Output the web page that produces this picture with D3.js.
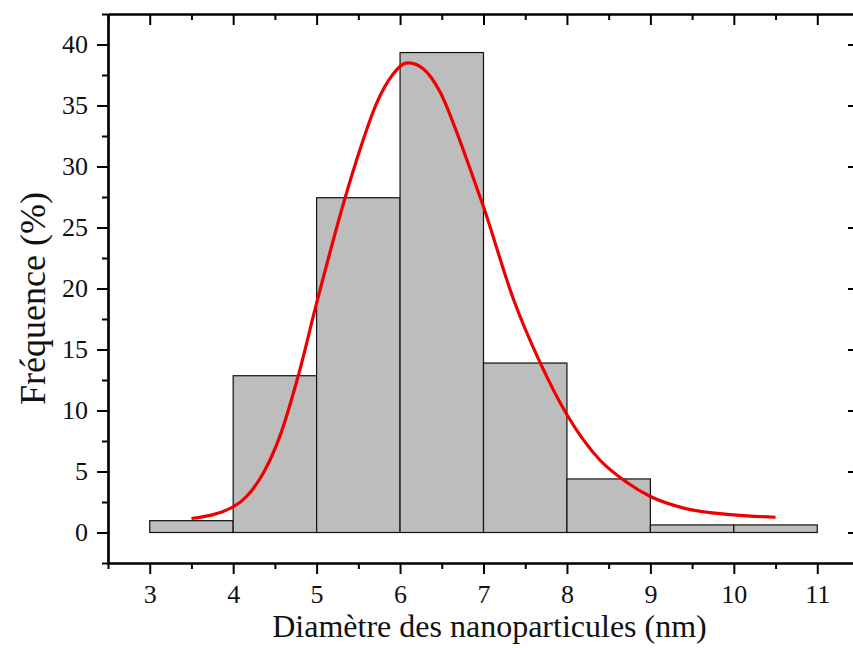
<!DOCTYPE html>
<html>
<head>
<meta charset="utf-8">
<script src="https://cdn.jsdelivr.net/npm/d3@7"></script>
<style>
  body { margin: 0; background: #fff; }
  svg { display: block; }
</style>
</head>
<body>
<svg id="chart" width="853" height="648"></svg>
<script>
// ---- data ----
const binStarts = [3, 4, 5, 6, 7, 8, 9, 10];
const binWidth = 1;
const frequencies = [0.97, 12.85, 27.44, 39.34, 13.89, 4.39, 0.62, 0.62];
const fitX = [3.5, 4.0, 4.16, 4.36, 4.56, 4.78, 5.0, 5.34, 5.52, 5.72, 5.92, 6.04, 6.10, 6.28, 6.48, 6.68, 6.84, 7.0, 7.36, 7.68, 8.0, 8.4, 8.72, 9.0, 9.4, 10.0, 10.5];
const fitY = [1.15, 2.1, 2.95, 4.85, 7.9, 12.85, 18.8, 27.4, 31.4, 35.2, 37.6, 38.4, 38.5, 38.0, 36.1, 32.8, 29.8, 26.7, 19.1, 13.9, 9.65, 5.9, 4.1, 2.95, 2.0, 1.45, 1.25];
const xTickValues = [3, 4, 5, 6, 7, 8, 9, 10, 11];
const xMinorTicks = [2.5, 3.5, 4.5, 5.5, 6.5, 7.5, 8.5, 9.5, 10.5, 11.5];
const yTickValues = [0, 5, 10, 15, 20, 25, 30, 35, 40];
const yMinorTicks = [-2.5, 2.5, 7.5, 12.5, 17.5, 22.5, 27.5, 32.5, 37.5, 42.5];
const xTitle = "Diamètre des nanoparticules (nm)";
const yTitle = "Fréquence (%)";

// ---- layout ----
const FONT = "Liberation Serif";
const L = 108, T = 14, R = 859, B = 563;
const svg = d3.select("#chart");
const x = d3.scaleLinear().domain([2.5, 11.5]).range([L, R]);
const y = d3.scaleLinear().domain([-2.5, 42.5]).range([B, T]);

// bars
svg.append("g").selectAll("rect").data(binStarts).join("rect")
  .attr("x", d => x(d))
  .attr("width", d => x(d + binWidth) - x(d))
  .attr("y", (d, i) => y(frequencies[i]))
  .attr("height", (d, i) => y(0) - y(frequencies[i]))
  .attr("fill", "#bdbdbd")
  .attr("stroke", "#111")
  .attr("stroke-width", 1.2);

// fit curve
const pts = fitX.map((v, i) => [v, fitY[i]]);
svg.append("path")
  .datum(pts)
  .attr("d", d3.line().x(d => x(d[0])).y(d => y(d[1])).curve(d3.curveMonotoneX))
  .attr("fill", "none")
  .attr("stroke", "#ee0000")
  .attr("stroke-width", 3.2)
  .attr("stroke-linejoin", "round");

// axes
function styleAxis(g) {
  g.attr("font-family", FONT).attr("font-size", 26);
  g.selectAll("path.domain").attr("stroke", "#000").attr("stroke-width", 2.2);
  g.selectAll(".tick line").attr("stroke", "#000").attr("stroke-width", 2);
  g.selectAll(".tick text").attr("fill", "#111");
}
// bottom
svg.append("g").attr("transform", `translate(0,${B})`)
  .call(d3.axisBottom(x).tickValues(xTickValues).tickSize(11).tickPadding(11).tickSizeOuter(0).tickFormat(d3.format("d")))
  .call(styleAxis);
svg.append("g").attr("transform", `translate(0,${B})`)
  .call(d3.axisBottom(x).tickValues(xMinorTicks).tickSize(6).tickFormat("").tickSizeOuter(0))
  .call(styleAxis);
// top (inward)
svg.append("g").attr("transform", `translate(0,${T})`)
  .call(d3.axisBottom(x).tickValues(xTickValues).tickSize(11).tickFormat("").tickSizeOuter(0))
  .call(styleAxis);
svg.append("g").attr("transform", `translate(0,${T})`)
  .call(d3.axisBottom(x).tickValues(xMinorTicks).tickSize(6).tickFormat("").tickSizeOuter(0))
  .call(styleAxis);
// left
svg.append("g").attr("transform", `translate(${L},0)`)
  .call(d3.axisLeft(y).tickValues(yTickValues).tickSize(11).tickPadding(9).tickSizeOuter(0).tickFormat(d3.format("d")))
  .call(styleAxis);
svg.append("g").attr("transform", `translate(${L},0)`)
  .call(d3.axisLeft(y).tickValues(yMinorTicks).tickSize(6).tickFormat("").tickSizeOuter(0))
  .call(styleAxis);
// right (inward)
svg.append("g").attr("transform", `translate(${R},0)`)
  .call(d3.axisLeft(y).tickValues(yTickValues).tickSize(11).tickFormat("").tickSizeOuter(0))
  .call(styleAxis);
svg.append("g").attr("transform", `translate(${R},0)`)
  .call(d3.axisLeft(y).tickValues(yMinorTicks).tickSize(6).tickFormat("").tickSizeOuter(0))
  .call(styleAxis);

// titles
svg.append("text")
  .attr("x", (x(3) + x(11)) / 2 + 6)
  .attr("y", 637)
  .attr("text-anchor", "middle")
  .attr("font-family", FONT)
  .attr("font-size", 32)
  .attr("fill", "#111")
  .text(xTitle);
svg.append("text")
  .attr("transform", `translate(45,${(y(0) + y(40)) / 2 + 10}) rotate(-90)`)
  .attr("text-anchor", "middle")
  .attr("font-family", FONT)
  .attr("font-size", 36)
  .attr("fill", "#111")
  .text(yTitle);
</script>
</body>
</html>
